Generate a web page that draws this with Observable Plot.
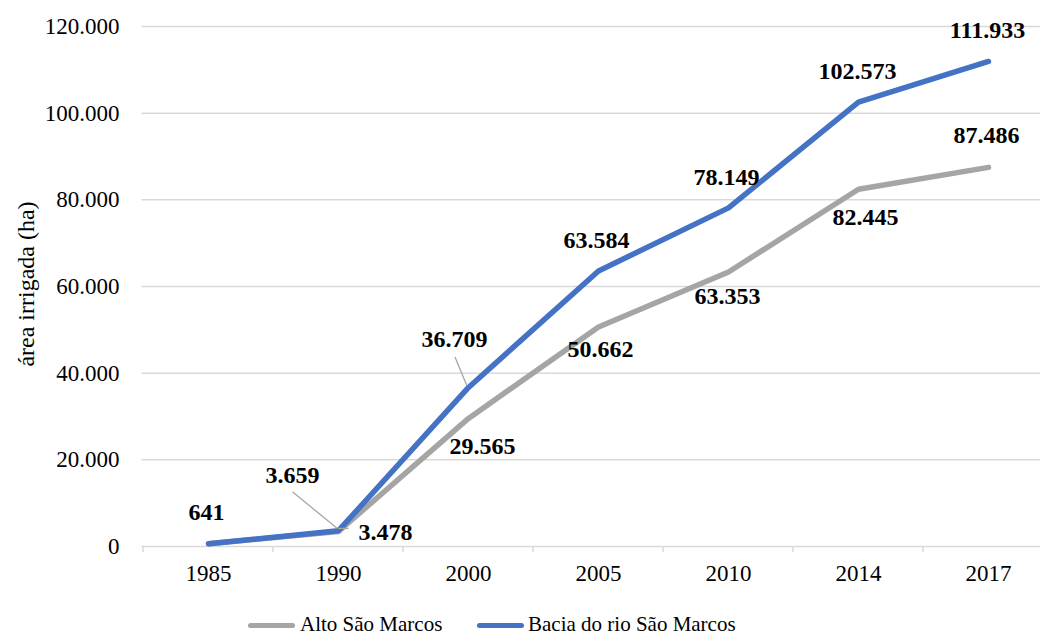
<!DOCTYPE html>
<html>
<head>
<meta charset="utf-8">
<script src="https://cdn.jsdelivr.net/npm/d3@7"></script>
<script src="https://cdn.jsdelivr.net/npm/@observablehq/plot@0.6"></script>
<style>
  html, body { margin: 0; padding: 0; background: #fff; overflow: hidden; }
  #wrap { width: 1040px; height: 635px; overflow: hidden; position: relative;
          font-family: 'Liberation Serif', serif; color: #000; }
  #legend { position: relative; height: 35px; }
  .sw { position: absolute; width: 47px; height: 5px; border-radius: 3px; }
  .lt { position: absolute; font-family: 'Liberation Serif', serif; font-size: 21px; line-height: 21px; white-space: nowrap; }
</style>
</head>
<body>
<div id="wrap"><div id="chart"></div><div id="legend"></div></div>
<script>
// ---- data ----
const years = ["1985", "1990", "2000", "2005", "2010", "2014", "2017"];
const altoSaoMarcos = [641, 3478, 29565, 50662, 63353, 82445, 87486];
const baciaSaoMarcos = [641, 3659, 36709, 63584, 78149, 102573, 111933];
const yTicks = [0, 20000, 40000, 60000, 80000, 100000, 120000];
const seriesNames = ["Alto São Marcos", "Bacia do rio São Marcos"];
const seriesColors = ["#a5a5a5", "#4472c4"];
const yTitle = "área irrigada (ha)";
const serif = "'Liberation Serif', serif";

// ---- label placement (pixel offsets from each point; null = no label) ----
const baciaLabelOffsets = [[-2, -31], [-46, -55], [-14, -48], [-2, -31], [-2, -31], [-1, -30.5], [-1, -31.5]];
const altoLabelOffsets = [null, [47, 1], [14, 28], [2, 22], [-1, 24.5], [7, 28], [-2, -32]];
// leader lines: [seriesIndex, pointIndex, fromOffset, toOffset]
const leaders = [
  [1, 1, [-45.6, -38.4], [-1, -2]],
  [0, 1, [0, -2.5], [10.5, -2.5]],
  [1, 2, [-13, -30], [-1, -1]]
];

const fmt = d3.formatLocale({decimal: ",", thousands: ".", grouping: [3], currency: ["", ""]}).format(",d");

const altoRows = years.map((year, i) => ({year, value: altoSaoMarcos[i]}));
const baciaRows = years.map((year, i) => ({year, value: baciaSaoMarcos[i]}));
const allRows = [altoRows, baciaRows];

const labelMarks = [];
[[altoRows, altoLabelOffsets], [baciaRows, baciaLabelOffsets]].forEach(([rows, offs]) => {
  rows.forEach((r, i) => {
    if (!offs[i]) return;
    labelMarks.push(Plot.text([r], {
      x: "year", y: "value", text: d => fmt(d.value),
      dx: offs[i][0], dy: offs[i][1],
      fontSize: 24, fontWeight: "bold", fontFamily: serif, fill: "#000"
    }));
  });
});

const plot = Plot.plot({
  width: 1054,
  height: 600,
  marginTop: 26,
  marginBottom: 54,
  marginLeft: 141.5,
  marginRight: 0,
  style: {fontFamily: serif, fontSize: "23px",
          background: "#fff", color: "#000", maxWidth: "none", overflow: "visible"},
  x: {type: "point", domain: years, padding: 0.5, tickSize: 0, tickPadding: 18, label: null},
  y: {domain: [0, 120000], ticks: yTicks, tickFormat: fmt, tickSize: 0, tickPadding: 22.5, label: null},
  marks: [
    Plot.ruleY(yTicks, {stroke: "#d9d9d9", strokeWidth: 1.5}),
    Plot.line(altoRows, {x: "year", y: "value", stroke: seriesColors[0], strokeWidth: 5.5,
                         strokeLinecap: "round", strokeLinejoin: "round"}),
    Plot.line(baciaRows, {x: "year", y: "value", stroke: seriesColors[1], strokeWidth: 5.5,
                          strokeLinecap: "round", strokeLinejoin: "round"}),
    ...labelMarks,
    Plot.text([yTitle], {frameAnchor: "left", textAnchor: "middle", rotate: -90, dx: -116, dy: -2.5,
                         fontSize: 24, fontFamily: serif, fill: "#000"})
  ]
});
plot.style.fontFamily = serif;
document.getElementById("chart").appendChild(plot);

// category boundary ticks and leader lines, through the plot's own scales
const sx = plot.scale("x"), sy = plot.scale("y");
const step = sx.apply(years[1]) - sx.apply(years[0]);
const bounds = years.map(y => sx.apply(y) - step / 2).concat([sx.apply(years[years.length - 1]) + step / 2]);
const svg = d3.select(plot);
svg.selectAll("text").style("font-family", serif);
const y0 = sy.apply(0);
svg.append("g").selectAll("line").data(bounds).join("line")
  .attr("x1", d => d).attr("x2", d => d).attr("y1", y0).attr("y2", y0 + 6)
  .attr("stroke", "#d9d9d9").attr("stroke-width", 1.5);
svg.append("g").selectAll("line").data(leaders).join("line")
  .attr("x1", d => sx.apply(years[d[1]]) + d[2][0])
  .attr("y1", d => sy.apply(allRows[d[0]][d[1]].value) + d[2][1])
  .attr("x2", d => sx.apply(years[d[1]]) + d[3][0])
  .attr("y2", d => sy.apply(allRows[d[0]][d[1]].value) + d[3][1])
  .attr("stroke", "#a6a6a6").attr("stroke-width", 1.3);

// legend
const legend = document.getElementById("legend");
const legendPos = [[248, 300], [477, 528]];
seriesNames.forEach((name, i) => {
  const sw = document.createElement("div");
  sw.className = "sw";
  sw.style.left = legendPos[i][0] + "px";
  sw.style.top = "23px";
  sw.style.background = seriesColors[i];
  const t = document.createElement("div");
  t.className = "lt";
  t.style.left = legendPos[i][1] + "px";
  t.style.top = "13.5px";
  t.textContent = name;
  legend.appendChild(sw);
  legend.appendChild(t);
});
</script>
</body>
</html>
